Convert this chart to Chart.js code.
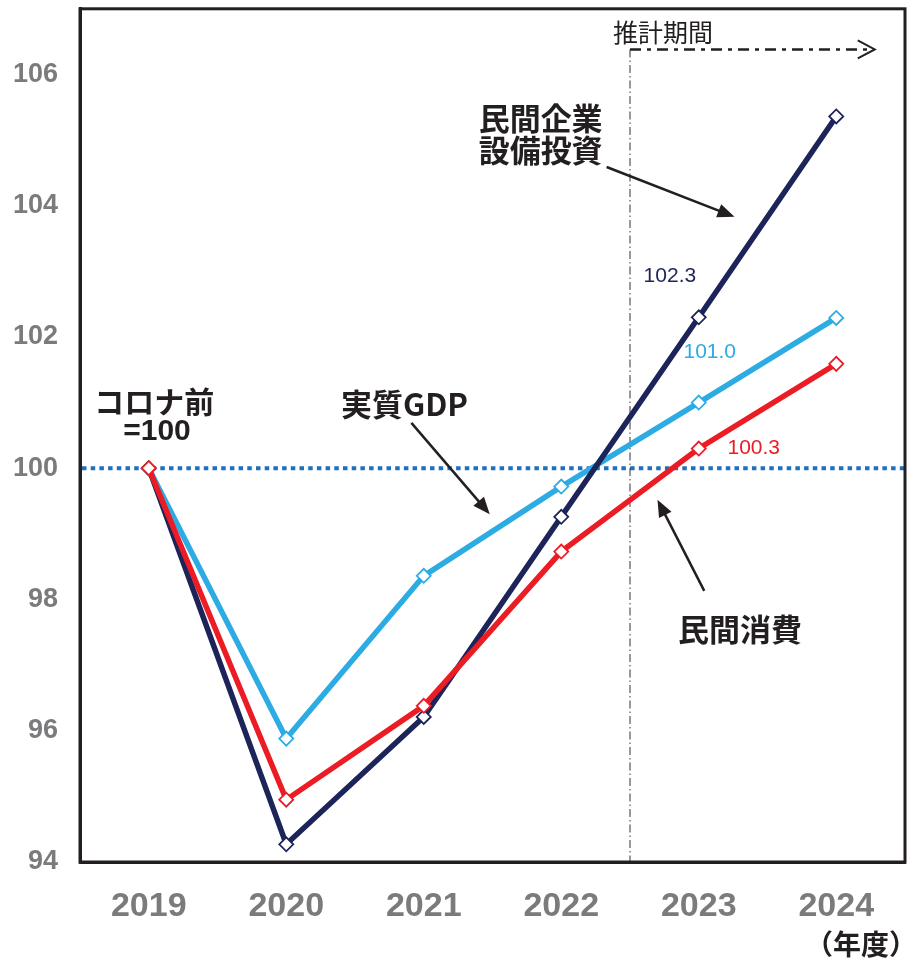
<!DOCTYPE html>
<html lang="ja">
<head>
  <meta charset="UTF-8">
  <title>民間企業設備投資・実質GDP・民間消費</title>
  <script src="https://cdn.jsdelivr.net/npm/chart.js"></script>
  <style>
    html, body { margin: 0; padding: 0; background: #fff; }
    canvas { display: block; }
  </style>
</head>
<body>
<canvas id="chart" width="917" height="962"></canvas>
<script>
// 年度
var years = ['2019', '2020', '2021', '2022', '2023', '2024'];
// コロナ前=100
var setsubi = [100, 94.27, 96.21, 99.26, 102.3, 105.36];   // 民間企業設備投資
var gdp     = [100, 95.88, 98.36, 99.72, 101.0, 102.29];   // 実質GDP
var shohi   = [100, 94.95, 96.38, 98.73, 100.3, 101.59];   // 民間消費
var yTicks  = [94, 96, 98, 100, 102, 104, 106];

var NAVY = '#1c2459';
var SKY = '#2cace3';
var RED = '#ec1c24';
var JP = '"Noto Sans CJK JP", "Noto Sans", sans-serif';
var NUM = '"Liberation Sans", Arial, sans-serif';
var NARROW = '"Liberation Sans Narrow", "Liberation Sans", Arial, sans-serif';

// 注記（x はカテゴリ番号、y は指数値）
var notes = [
  { text: '民間企業', x: 2.85, y: 105.34, font: 'bold 31px ' + JP, color: '#231f20' },
  { text: '設備投資', x: 2.85, y: 104.85, font: 'bold 31px ' + JP, color: '#231f20' },
  { text: 'コロナ前', x: 0.04, y: 101.01, font: 'bold 30px ' + JP, color: '#231f20' },
  { text: '=100', x: 0.06, y: 100.55, font: 'bold 30px ' + NUM, color: '#231f20' },
  { text: '実質GDP', x: 1.86, y: 100.97, font: 'bold 31px ' + JP, color: '#231f20' },
  { text: '民間消費', x: 4.30, y: 97.54, font: 'bold 31px ' + JP, color: '#231f20' },
  { text: '102.3', x: 3.79, y: 102.92, font: '21px ' + NUM, color: NAVY },
  { text: '101.0', x: 4.08, y: 101.77, font: '21px ' + NUM, color: SKY },
  { text: '100.3', x: 4.40, y: 100.30, font: '21px ' + NUM, color: RED },
  { text: '推計期間', x: 3.74, y: 106.64, font: '25px ' + JP, color: '#231f20' }
];
var arrows = [
  { x1: 3.33, y1: 104.59, x2: 4.26, y2: 103.83 },
  { x1: 1.91, y1: 100.69, x2: 2.48, y2: 99.30 },
  { x1: 4.04, y1: 98.13, x2: 3.70, y2: 99.52 }
];
var forecastStart = 3.5;
var forecastArrow = { y: 106.38, xEnd: 5.28 };

function headArrow(ctx, x1, y1, x2, y2) {
  var a = Math.atan2(y2 - y1, x2 - x1);
  var len = 17, w = 7;
  ctx.beginPath();
  ctx.moveTo(x1, y1);
  ctx.lineTo(x2 - Math.cos(a) * len * 0.8, y2 - Math.sin(a) * len * 0.8);
  ctx.stroke();
  ctx.beginPath();
  ctx.moveTo(x2, y2);
  ctx.lineTo(x2 - Math.cos(a) * len + Math.sin(a) * w, y2 - Math.sin(a) * len - Math.cos(a) * w);
  ctx.lineTo(x2 - Math.cos(a) * len - Math.sin(a) * w, y2 - Math.sin(a) * len + Math.cos(a) * w);
  ctx.closePath();
  ctx.fill();
}

var decor = {
  id: 'decor',
  beforeDatasetsDraw: function(chart) {
    var ctx = chart.ctx, x = chart.scales.x, y = chart.scales.y, a = chart.chartArea;
    ctx.save();
    // 100 の点線
    ctx.strokeStyle = '#1f70bd';
    ctx.lineWidth = 4;
    ctx.setLineDash([4.5, 4.2]);
    ctx.beginPath();
    ctx.moveTo(a.left + 2, y.getPixelForValue(100));
    ctx.lineTo(a.right, y.getPixelForValue(100));
    ctx.stroke();
    // 推計期間の縦線
    var vx = x.getPixelForValue(forecastStart);
    ctx.strokeStyle = '#333';
    ctx.lineWidth = 1;
    ctx.setLineDash([8, 3, 1.5, 3]);
    ctx.beginPath();
    ctx.moveTo(vx, y.getPixelForValue(forecastArrow.y));
    ctx.lineTo(vx, a.bottom);
    ctx.stroke();
    ctx.restore();
  },
  afterDraw: function(chart) {
    var ctx = chart.ctx, x = chart.scales.x, y = chart.scales.y, a = chart.chartArea;
    ctx.save();
    // 枠
    ctx.strokeStyle = '#231f20';
    ctx.lineWidth = 3;
    ctx.strokeRect(a.left, a.top, a.right - a.left, a.bottom - a.top);
    // 推計期間の矢印
    var ay = y.getPixelForValue(forecastArrow.y);
    var ax0 = x.getPixelForValue(forecastStart);
    var ax1 = x.getPixelForValue(forecastArrow.xEnd);
    ctx.lineWidth = 2.5;
    ctx.setLineDash([11, 6, 4, 6]);
    ctx.beginPath();
    ctx.moveTo(ax0, ay);
    ctx.lineTo(ax1 - 2, ay);
    ctx.stroke();
    ctx.setLineDash([]);
    ctx.lineWidth = 2;
    ctx.beginPath();
    ctx.moveTo(ax1 - 17, ay - 9);
    ctx.lineTo(ax1, ay);
    ctx.lineTo(ax1 - 17, ay + 9);
    ctx.stroke();
    // 矢印
    ctx.strokeStyle = '#231f20';
    ctx.fillStyle = '#231f20';
    ctx.lineWidth = 2.5;
    arrows.forEach(function(r) {
      headArrow(ctx, x.getPixelForValue(r.x1), y.getPixelForValue(r.y1),
                x.getPixelForValue(r.x2), y.getPixelForValue(r.y2));
    });
    // 文字
    ctx.textAlign = 'center';
    ctx.textBaseline = 'middle';
    notes.forEach(function(n) {
      ctx.font = n.font;
      ctx.fillStyle = n.color;
      ctx.fillText(n.text, x.getPixelForValue(n.x), y.getPixelForValue(n.y));
    });
    // 年度
    ctx.font = 'bold 28px ' + JP;
    ctx.fillStyle = '#231f20';
    ctx.textAlign = 'right';
    ctx.fillText('（年度）', a.right + 12, chart.height - 18);
    ctx.restore();
  }
};

function series(label, data, color) {
  return {
    label: label,
    data: data,
    borderColor: color,
    borderWidth: 5.5,
    pointStyle: 'rectRot',
    pointRadius: 7,
    pointBorderWidth: 1.8,
    pointBackgroundColor: '#fff',
    pointBorderColor: color,
    tension: 0
  };
}

new Chart(document.getElementById('chart'), {
  type: 'line',
  data: {
    labels: years,
    datasets: [
      series('民間消費', shohi, RED),
      series('民間企業設備投資', setsubi, NAVY),
      series('実質GDP', gdp, SKY)
    ]
  },
  options: {
    responsive: false,
    animation: false,
    layout: { padding: { top: 7, right: 12, left: 0, bottom: 0 } },
    plugins: { legend: { display: false }, tooltip: { enabled: false } },
    scales: {
      x: {
        offset: true,
        grid: { display: false, drawTicks: false },
        border: { color: '#231f20', width: 3 },
        ticks: { color: '#7b7b7d', font: { family: NARROW, size: 34, weight: 'bold' }, padding: 24 },
        afterFit: function(s) { s.height = 100; s.paddingLeft = 0; s.paddingRight = 0; }
      },
      y: {
        min: 94,
        max: 107,
        grid: { display: false, drawTicks: false },
        border: { color: '#231f20', width: 3 },
        afterBuildTicks: function(s) { s.ticks = yTicks.map(function(v) { return { value: v }; }); },
        ticks: { color: '#7b7b7d', font: { family: NARROW, size: 27, weight: 'bold' }, padding: 22 },
        afterFit: function(s) { s.width = 80; s.paddingTop = 0; s.paddingBottom = 0; }
      }
    }
  },
  plugins: [decor]
});
</script>
</body>
</html>
